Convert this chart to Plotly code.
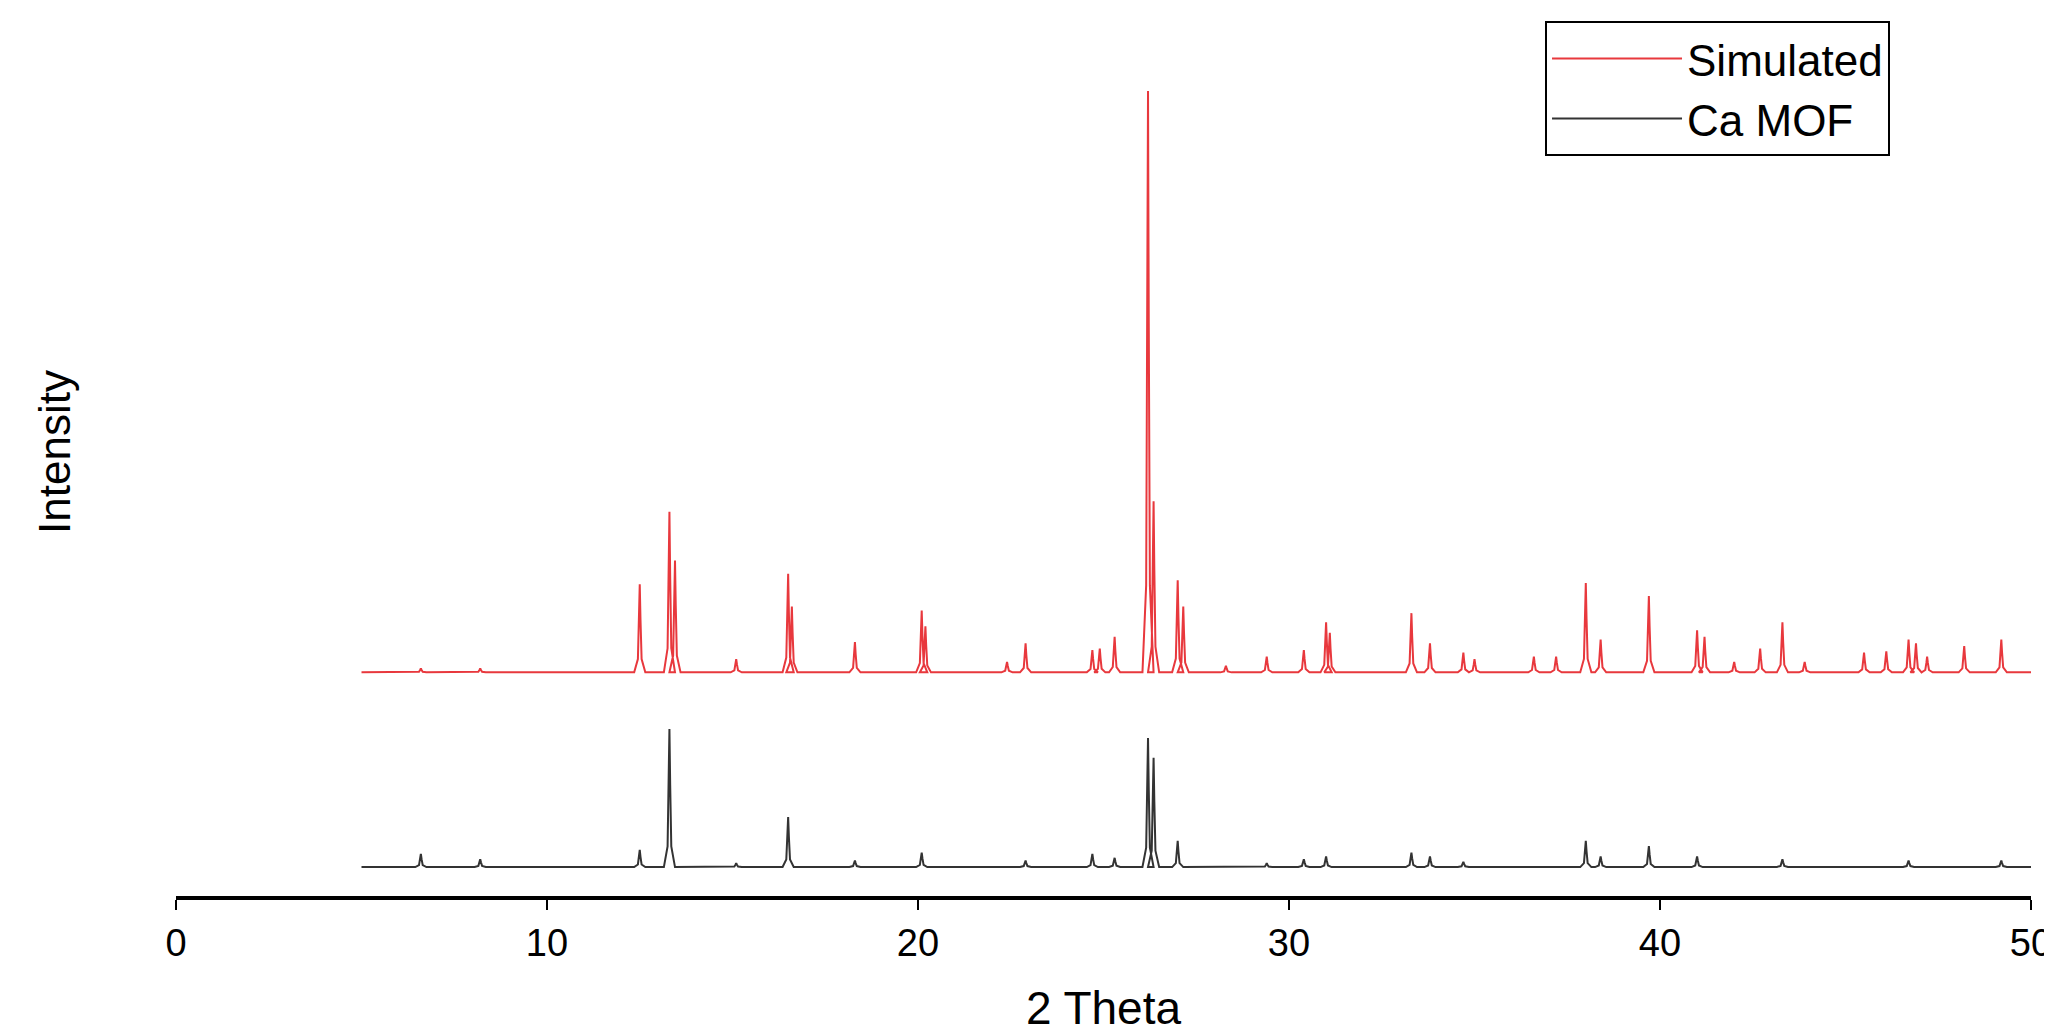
import plotly.graph_objects as go

# Simulated pattern: peak positions (2θ) and heights (arbitrary units)
sim_pos = [6.6, 8.2, 12.5, 13.3, 13.45, 15.1, 16.5, 16.6, 18.3, 20.1, 20.2, 22.4, 22.9, 24.7, 24.9, 25.3,
           26.2, 26.35, 27.0, 27.15, 28.3, 29.4, 30.4, 31.0, 31.1, 33.3, 33.8, 34.7, 35.0, 36.6, 37.2,
           38.0, 38.4, 39.7, 41.0, 41.2, 42.0, 42.7, 43.3, 43.9, 45.5, 46.1, 46.7, 46.9, 47.2, 48.2, 49.2]
sim_h = [3, 3, 67, 122, 85, 10, 75, 50, 23, 47, 35, 8, 22, 17, 18, 27,
         442, 130, 70, 50, 5, 12, 17, 38, 30, 45, 22, 15, 10, 12, 12,
         68, 25, 58, 32, 27, 8, 18, 38, 8, 15, 16, 25, 22, 12, 20, 25]

# Ca MOF pattern
mof_pos = [6.6, 8.2, 12.5, 13.3, 15.1, 16.5, 18.3, 20.1, 22.9, 24.7, 25.3, 26.2, 26.35, 27.0,
           29.4, 30.4, 31.0, 33.3, 33.8, 34.7, 38.0, 38.4, 39.7, 41.0, 43.3, 46.7, 49.2]
mof_h = [10, 6, 13, 105, 3, 38, 5, 11, 5, 10, 7, 98, 83, 20,
         3, 6, 8, 11, 8, 4, 20, 8, 16, 8, 6, 5, 5]

sim_offset = 170
mof_offset = 22
x_start, x_end = 5.0, 50.0
half_w = 0.15


def profile(pos, h, offset):
    xs, ys = [x_start], [offset]
    for p, v in sorted(zip(pos, h)):
        xs += [p - half_w, p - 0.05, p - 0.02, p, p + 0.02, p + 0.05, p + half_w]
        ys += [offset, offset + v * 0.15, offset + v * 0.6, offset + v,
               offset + v * 0.6, offset + v * 0.15, offset]
    xs.append(x_end)
    ys.append(offset)
    return xs, ys


sx, sy = profile(sim_pos, sim_h, sim_offset)
mx, my = profile(mof_pos, mof_h, mof_offset)

fig = go.Figure()
fig.add_trace(go.Scatter(x=sx, y=sy, mode="lines", name="Simulated",
                         line=dict(color="#e8383d", width=2)))
fig.add_trace(go.Scatter(x=mx, y=my, mode="lines", name="Ca MOF",
                         line=dict(color="#333333", width=2)))

fig.update_layout(
    width=2052, height=1029,
    paper_bgcolor="white", plot_bgcolor="white",
    margin=dict(l=168, r=29, t=0, b=141),
    font=dict(family="Liberation Sans, Arial, sans-serif", color="black"),
    showlegend=True,
    legend=dict(x=0.924, y=0.985, xanchor="right", yanchor="top",
                bordercolor="black", borderwidth=2, bgcolor="white",
                font=dict(size=44), itemwidth=130, tracegroupgap=0),
    xaxis=dict(range=[0, 50], tickvals=[0, 10, 20, 30, 40, 50],
               ticks="outside", ticklen=10, tickwidth=2, tickcolor="black",
               showline=True, linecolor="black", linewidth=4,
               showgrid=False, zeroline=False, tickfont=dict(size=38),
               title=dict(text="2 Theta", font=dict(size=46), standoff=30)),
    yaxis=dict(range=[0, 675], showticklabels=False, showgrid=False, zeroline=False,
               showline=False, ticks="",
               title=dict(text="Intensity", font=dict(size=44), standoff=90)),
)
fig.write_html("out.html")
